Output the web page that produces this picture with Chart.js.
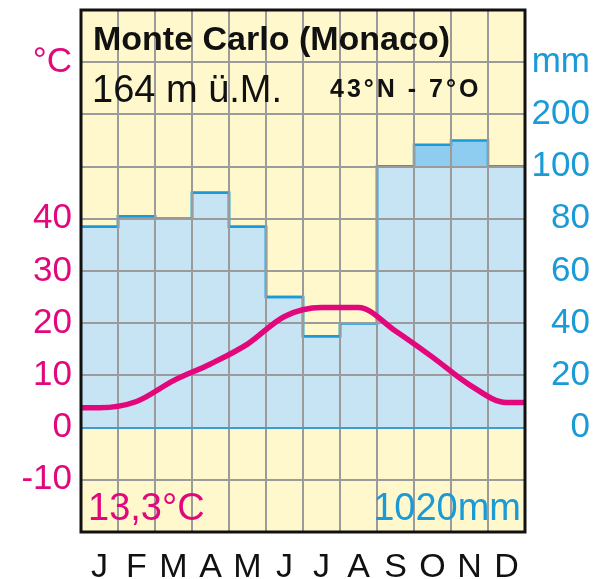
<!DOCTYPE html>
<html lang="de">
<head>
<meta charset="UTF-8" />
<title>Monte Carlo (Monaco)</title>
<script src="https://cdn.jsdelivr.net/npm/chart.js@4.4.1/dist/chart.umd.min.js"></script>
<style>
  html, body { margin: 0; padding: 0; background: #fff; }
</style>
</head>
<body>
<canvas id="chart" width="607" height="579"></canvas>
<script>
// Klimadiagramm Monte Carlo
const months = ["J", "F", "M", "A", "M", "J", "J", "A", "S", "O", "N", "D"];
const temperature = [3.8, 5.0, 9.0, 12.2, 16.0, 21.3, 23.0, 23.0, 18.5, 13.5, 8.2, 4.8];
const precipitation = [77, 81, 80, 90, 77, 50, 35, 40, 100, 142, 150, 100];
const tempTicks = [-10, 0, 10, 20, 30, 40];
const precipTicks = [0, 20, 40, 60, 80, 100];

const FONT = '"Liberation Sans", Arial, sans-serif';
const MAGENTA = "#e2087c";
const BLUE = "#1a9ad7";

// above 100 mm the scale is compressed 1:10 (one grid step = 100 mm)
function pScale(p) {
  return p <= 100 ? p : 100 + (p - 100) / 5;
}
function stepPoints(vals) {
  const pts = vals.map((v, i) => ({ x: i, y: v }));
  pts.push({ x: 12, y: vals[vals.length - 1] });
  return pts;
}
const tempPoints = [{ x: 0, y: temperature[0] }]
  .concat(temperature.map((t, i) => ({ x: i + 0.5, y: t })))
  .concat([{ x: 12, y: temperature[11] }]);

function noPad(s) {
  s.paddingTop = 0;
  s.paddingBottom = 0;
  s.paddingLeft = 0;
  s.paddingRight = 0;
}

const frame = {
  id: "frame",
  beforeDraw(chart) {
    const { ctx, chartArea: a } = chart;
    ctx.save();
    ctx.fillStyle = "#fef8cc";
    ctx.fillRect(a.left, a.top, a.right - a.left, a.bottom - a.top);
    ctx.restore();
  },
  beforeDatasetDraw(chart, args) {
    // gridlines over the precipitation fill, under the temperature curve
    if (args.index === 2) {
      chart.scales.x.drawGrid(chart.chartArea);
      chart.scales.y.drawGrid(chart.chartArea);
    }
  },
  afterDraw(chart) {
    const { ctx, chartArea: a } = chart;
    ctx.save();
    ctx.textBaseline = "alphabetic";
    ctx.fillStyle = "#111";
    ctx.font = "bold 34px " + FONT;
    ctx.fillText("Monte Carlo (Monaco)", 93, 50);
    ctx.font = "38px " + FONT;
    ctx.fillText("164 m ü.M.", 92, 102);
    ctx.font = "bold 25px " + FONT;
    ctx.letterSpacing = "3px";
    ctx.fillText("43°N - 7°O", 330, 97);
    ctx.letterSpacing = "0px";
    ctx.font = "38px " + FONT;
    ctx.fillStyle = MAGENTA;
    ctx.fillText("13,3°C", 88, 520);
    ctx.fillStyle = BLUE;
    ctx.textAlign = "right";
    ctx.fillText("1020mm", 521, 520);
    ctx.strokeStyle = "#111";
    ctx.lineWidth = 3;
    ctx.strokeRect(a.left, a.top, a.right - a.left, a.bottom - a.top);
    ctx.restore();
  }
};

new Chart(document.getElementById("chart"), {
  type: "line",
  data: {
    datasets: [
      {
        label: "Niederschlag",
        data: stepPoints(precipitation.map((p) => Math.min(p, 100))),
        yAxisID: "yP",
        stepped: true,
        fill: "origin",
        backgroundColor: "#c7e4f5",
        borderColor: BLUE,
        borderWidth: 2.5,
        pointRadius: 0,
        order: 2
      },
      {
        label: "Niederschlag > 100 mm",
        data: stepPoints(precipitation.map(pScale)),
        yAxisID: "yP",
        stepped: true,
        fill: "-1",
        backgroundColor: "#8ecdf0",
        borderColor: BLUE,
        borderWidth: 2.5,
        pointRadius: 0,
        order: 1
      },
      {
        label: "Temperatur",
        data: tempPoints,
        yAxisID: "y",
        borderColor: MAGENTA,
        borderWidth: 5.5,
        pointRadius: 0,
        cubicInterpolationMode: "monotone",
        fill: false,
        order: 0
      }
    ]
  },
  options: {
    responsive: false,
    animation: false,
    layout: { padding: { top: 10, right: 17, left: 0, bottom: 0 } },
    plugins: { legend: { display: false }, tooltip: { enabled: false } },
    scales: {
      x: {
        type: "linear",
        min: 0,
        max: 12,
        ticks: { stepSize: 1, display: false },
        grid: { color: "#9b9b9b", lineWidth: 2, drawTicks: false },
        border: { display: false },
        afterFit: (s) => { s.height = 0; noPad(s); }
      },
      xl: {
        type: "linear",
        position: "bottom",
        min: 0,
        max: 12,
        grid: { display: false },
        border: { display: false },
        afterBuildTicks: (s) => { s.ticks = months.map((m, i) => ({ value: i + 0.5 })); },
        ticks: {
          callback: (v, i) => months[i],
          autoSkip: false,
          maxRotation: 0,
          padding: 7,
          color: "#111",
          font: { family: FONT, size: 34 }
        },
        afterFit: (s) => { s.height = 47; noPad(s); }
      },
      y: {
        position: "left",
        min: -20,
        max: 80,
        ticks: {
          stepSize: 10,
          autoSkip: false,
          padding: 9,
          color: MAGENTA,
          font: { family: FONT, size: 35 },
          callback: (v) => tempTicks.includes(v) ? String(v) : (v === 70 ? "°C" : "")
        },
        grid: {
          color: (c) => (c.tick && c.tick.value === 0 ? "#3d9fd0" : "#9b9b9b"),
          lineWidth: 2,
          drawTicks: false
        },
        border: { display: false },
        afterFit: (s) => { s.width = 81; noPad(s); }
      },
      yP: {
        position: "right",
        min: -40,
        max: 160,
        grid: { display: false },
        border: { display: false },
        ticks: {
          stepSize: 20,
          autoSkip: false,
          crossAlign: "far",
          color: BLUE,
          font: { family: FONT, size: 35 },
          callback: (v) => precipTicks.includes(v) ? String(v) : (v === 120 ? "200" : (v === 140 ? "mm" : ""))
        },
        afterFit: (s) => { s.width = 65; noPad(s); }
      }
    }
  },
  plugins: [frame]
});
</script>
</body>
</html>
